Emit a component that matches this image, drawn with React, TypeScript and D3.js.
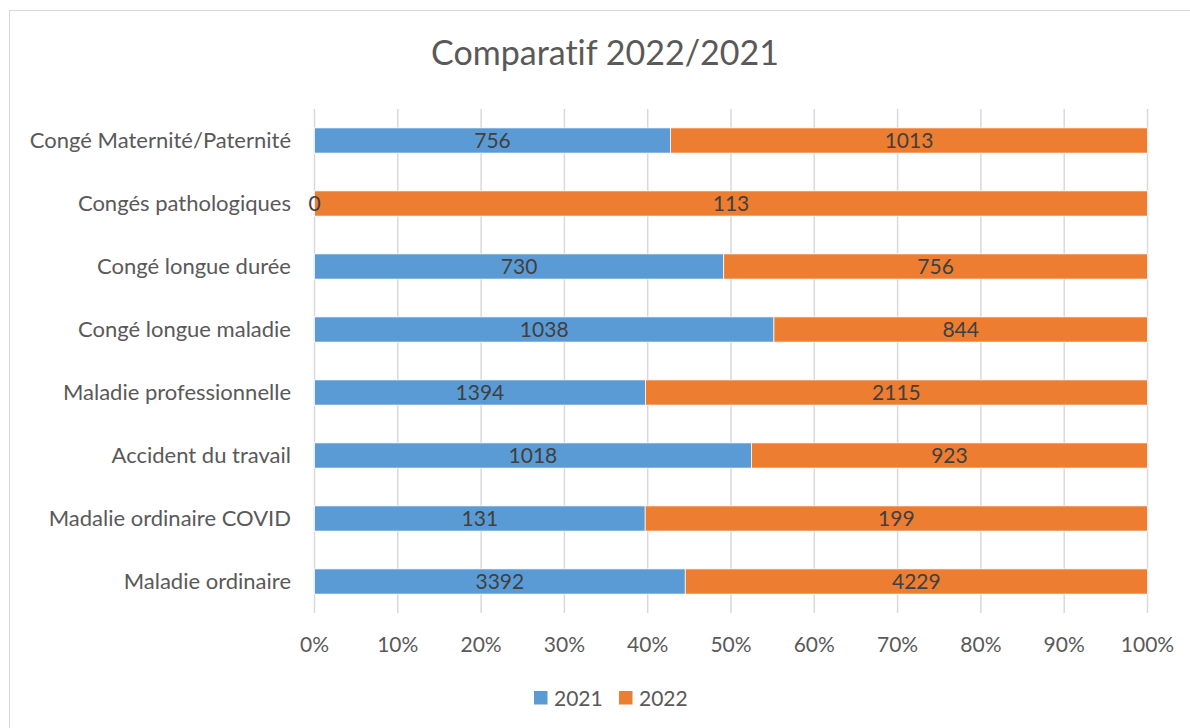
import React from 'react';
import * as d3 from 'd3';

const categories = [
  'Congé Maternité/Paternité',
  'Congés pathologiques',
  'Congé longue durée',
  'Congé longue maladie',
  'Maladie professionnelle',
  'Accident du travail',
  'Madalie ordinaire COVID',
  'Maladie ordinaire',
];
const values2021 = [756, 0, 730, 1038, 1394, 1018, 131, 3392];
const values2022 = [1013, 113, 756, 844, 2115, 923, 199, 4229];
const seriesNames = ['2021', '2022'];
const seriesColors = ['#5B9BD5', '#ED7D31'];
const ticks = [0, 0.1, 0.2, 0.3, 0.4, 0.5, 0.6, 0.7, 0.8, 0.9, 1];

const W = 1190, H = 728;
const FONT = 'Lato, "Open Sans", sans-serif';

export default function App() {
  const x = d3.scaleLinear().domain([0, 1]).range([314.5, 1147.5]);
  const y = d3.scaleBand<string>().domain(categories).range([109, 613]).paddingInner(0.6).paddingOuter(0.3);

  // each row stacked and normalised to 100%
  const rows = categories.map((c, i) => {
    const stack = d3.stack<number[]>().keys(['0', '1']).offset(d3.stackOffsetExpand)([[values2021[i], values2022[i]]] as any);
    return { c, segs: stack.map((s, k) => ({ k, x0: s[0][0], x1: s[0][1], v: k === 0 ? values2021[i] : values2022[i] })) };
  });

  return (
    <svg width={W} height={H} style={{ position: 'absolute', left: 0, top: 0, fontFamily: FONT, fontVariantLigatures: 'none' }}>
      <rect x={0} y={0} width={W} height={H} fill="#fff" />
      <rect x={9.5} y={10.5} width={W + 10} height={H + 10} fill="none" stroke="#d9d9d9" strokeWidth={1} />
      <text x={605} y={65} textAnchor="middle" fontSize={34} fill="#595959">Comparatif 2022/2021</text>

      {ticks.map(t => (
        <g key={t}>
          <line x1={x(t)} x2={x(t)} y1={109} y2={613} stroke="#d9d9d9" strokeWidth={1.5} />
          <text x={x(t)} y={652} textAnchor="middle" fontSize={21} fill="#595959">{d3.format('.0%')(t)}</text>
        </g>
      ))}

      {rows.map(r => (
        <g key={r.c}>
          <text x={291} y={y(r.c)! + y.bandwidth() / 2} dy="0.35em" textAnchor="end" fontSize={22} fill="#595959">{r.c}</text>
          {r.segs.map(s => (
            <rect key={s.k} x={x(s.x0)} y={y(r.c)} width={x(s.x1) - x(s.x0)} height={y.bandwidth()}
              fill={seriesColors[s.k]} stroke="#fff" strokeWidth={0.75} />
          ))}
          {r.segs.map(s => (
            <text key={'l' + s.k} x={(x(s.x0) + x(s.x1)) / 2} y={y(r.c)! + y.bandwidth() / 2} dy="0.36em"
              textAnchor="middle" fontSize={21} fill="#404040">{s.v}</text>
          ))}
        </g>
      ))}

      {seriesNames.map((n, k) => (
        <g key={n} transform={`translate(${534 + k * 85},691)`}>
          <rect width={13.5} height={13.5} fill={seriesColors[k]} />
          <text x={20} y={7} dy="0.36em" fontSize={21} fill="#595959">{n}</text>
        </g>
      ))}
    </svg>
  );
}
